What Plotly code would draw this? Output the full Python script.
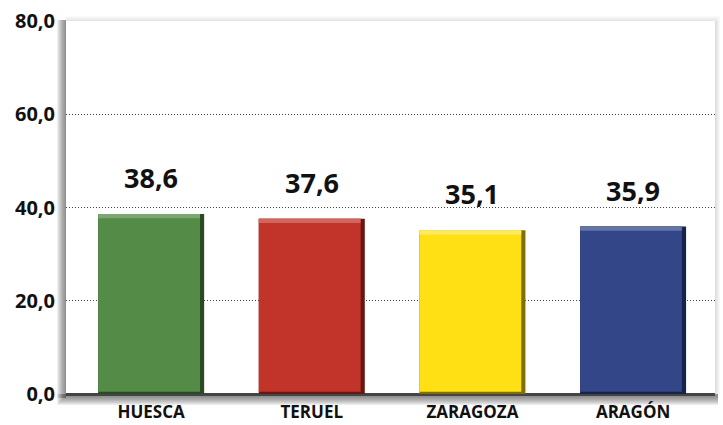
import plotly.graph_objects as go

categories = ["HUESCA", "TERUEL", "ZARAGOZA", "ARAGÓN"]
values = [38.6, 37.6, 35.1, 35.9]
colors = ["#548C47", "#C2342A", "#FFE014", "#324688"]
dark_colors = ["#2A4A23", "#651913", "#807004", "#18234C"]
light_colors = ["#7AA670", "#D0665D", "#FFEA66", "#6574A6"]
tick_vals = [0, 20, 40, 60, 80]

W = 0.66
EDGE = 0.026
BOTTOM = 0.5
TOP = 0.9

fig = go.Figure()
fig.add_trace(go.Bar(x=categories, y=values, width=W, marker=dict(color=dark_colors, line=dict(width=0)),
                     hoverinfo="skip", showlegend=False))
fig.add_trace(go.Bar(x=categories, y=[v - BOTTOM for v in values], base=BOTTOM, width=W - EDGE,
                     offset=-W / 2, marker=dict(color=colors, line=dict(width=0)),
                     showlegend=False))
fig.add_trace(go.Bar(x=categories, y=[TOP] * len(values), base=[v - TOP for v in values], width=W - EDGE,
                     offset=-W / 2, marker=dict(color=light_colors, line=dict(width=0)),
                     hoverinfo="skip", showlegend=False))

for c, v in zip(categories, values):
    fig.add_annotation(x=c, y=v, text=f"{v:.1f}".replace(".", ","), showarrow=False,
                       yanchor="bottom", yshift=16,
                       font=dict(family="Open Sans", size=27, color="#111111", weight="bold"))

PW, PH = 649, 373
shapes = []
for i in range(9):
    d = i + 1
    shapes.append(dict(type="rect", xref="paper", yref="paper", layer="below",
                       x0=-d / PW, x1=0, y0=-4 / PH, y1=1 + 1 / PH,
                       fillcolor="#444444", opacity=0.09, line=dict(width=0)))
    shapes.append(dict(type="rect", xref="paper", yref="paper", layer="below",
                       x0=-d / PW, x1=1 + 3 / PW, y0=-(d + 2) / PH, y1=0,
                       fillcolor="#444444", opacity=0.09, line=dict(width=0)))
for i in range(5):
    d = i + 1
    shapes.append(dict(type="rect", xref="paper", yref="paper", layer="below",
                       x0=0, x1=1 + d / PW, y0=1, y1=1 + d / PH,
                       fillcolor="#777777", opacity=0.035, line=dict(width=0)))
    shapes.append(dict(type="rect", xref="paper", yref="paper", layer="below",
                       x0=1, x1=1 + d / PW, y0=0, y1=1,
                       fillcolor="#777777", opacity=0.05, line=dict(width=0)))

fig.update_layout(
    width=723, height=425,
    margin=dict(l=66, r=8, t=21, b=31, autoexpand=False),
    paper_bgcolor="white", plot_bgcolor="white",
    barmode="overlay",
    separators=",.",
    shapes=shapes,
    showlegend=False,
    font=dict(family="Open Sans", color="#111111"),
)
fig.update_yaxes(range=[0, 80], tickvals=tick_vals, tickformat=".1f", automargin=False,
                 showgrid=True, gridcolor="#444444", griddash="1px,2px", gridwidth=1,
                 zeroline=True, zerolinecolor="#444444", zerolinewidth=1.5,
                 showline=False, ticks="", ticklabelstandoff=10,
                 tickfont=dict(family="Open Sans", size=20, color="#111111", weight="bold"))
fig.update_xaxes(range=[-0.53, 3.51], showline=True, linecolor="#444444", linewidth=1.5, ticks="",
                 automargin=False, ticklabelstandoff=2,
                 tickfont=dict(family="Open Sans", size=17, color="#111111", weight="bold"))

fig.write_html("out.html", config={"displayModeBar": False},
               post_script="document.body.style.margin='0';document.body.style.padding='0';")
